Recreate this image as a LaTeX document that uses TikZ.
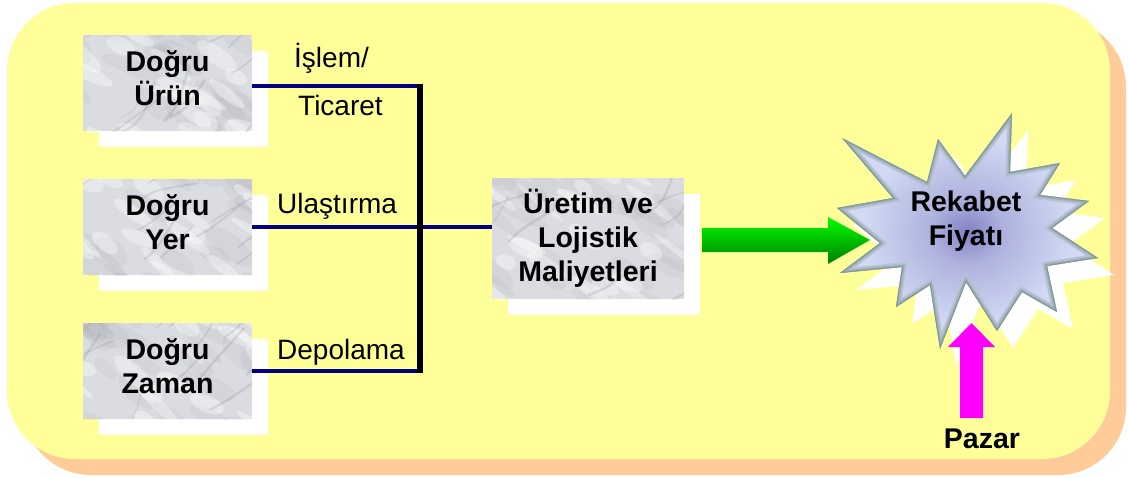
\documentclass[tikz,border=0pt]{standalone}
\usepackage{fontspec}
\setmainfont{Liberation Sans}
\usetikzlibrary{calc}
\pgfdeclarelayer{base}
\pgfdeclarelayer{shade}
\pgfsetlayers{base,shade,main}

\definecolor{paper}{RGB}{255,255,153}
\definecolor{peach}{RGB}{255,204,153}
\definecolor{navyline}{RGB}{0,0,128}
\definecolor{stonebase}{RGB}{218,220,225}
\definecolor{vein}{RGB}{120,122,130}
\definecolor{starout}{RGB}{210,217,244}
\definecolor{starmid}{RGB}{130,130,195}
\definecolor{starrim}{RGB}{130,152,150}
\definecolor{arrowgreen}{RGB}{0,255,0}
\definecolor{deepgreen}{RGB}{0,125,0}
\definecolor{pink}{RGB}{255,0,255}

\pgfdeclareradialshading{burst}{\pgfpoint{0bp}{0bp}}{%
  color(0bp)=(starmid); color(7bp)=(starmid!45!starout);
  color(20bp)=(starout); color(50bp)=(starout)}

% outline of the twelve-point burst
\newcommand{\burstoutline}{(842,138) -- (927,182) -- (938,139) -- (965,176) --
  (1012,113) -- (1010,172) -- (1060,163) -- (1040,195) -- (1089,201) --
  (1052,228) -- (1098,258) -- (1047,266) -- (1057,312) -- (1022,292) --
  (997,331) -- (966,282) -- (940,349) -- (930,285) -- (896,307) --
  (902,267) -- (840,273) -- (880,243) -- (837,208) -- (893,198) -- cycle}

% fat arrow pointing right, from (ga) to (gt)
\newcommand{\rightblock}{($(ga)+(0,-12)$) -- ($(gt)+(-42,-12)$) --
  ($(gt)+(-42,-23)$) -- (gt) -- ($(gt)+(-42,24)$) -- ($(gt)+(-42,12)$) --
  ($(ga)+(0,12)$) -- cycle}

% fat arrow pointing up, from (pb) to (pt)
\newcommand{\upblock}{($(pb)+(-11.5,0)$) -- ($(pt)+(-11.5,24)$) --
  ($(pt)+(-23.5,24)$) -- (pt) -- ($(pt)+(23.5,24)$) -- ($(pt)+(11.5,24)$) --
  ($(pb)+(11.5,0)$) -- cycle}

\tikzset{
  stone/.style={minimum width=169pt, minimum height=96pt, inner sep=0pt,
    align=center, font=\bfseries\fontsize{28.5}{34}\selectfont,
    path picture={
      \fill[stonebase] (path picture bounding box.south west)
        rectangle (path picture bounding box.north east);
      % soft mottling
      \foreach \k in {1,...,26}{
        \fill[vein, opacity=0.07]
          ($(path picture bounding box.center)+({(rnd-0.5)*220},{(rnd-0.5)*140})$)
          ellipse [x radius={12+22*rnd}, y radius={5+8*rnd}, rotate={-20-25*rnd}];
      }
      \foreach \k in {1,...,22}{
        \fill[white, opacity=0.35]
          ($(path picture bounding box.center)+({(rnd-0.5)*220},{(rnd-0.5)*140})$)
          ellipse [x radius={10+20*rnd}, y radius={3+6*rnd}, rotate={-20-25*rnd}];
      }
      % fine veins
      \foreach \k in {1,...,14}{
        \draw[vein, opacity=0.18, line width={(0.8+2*rnd)*1pt}, line cap=round]
          ($(path picture bounding box.center)+({(rnd-0.5)*230},{(rnd-0.5)*150})$)
          .. controls ++({-20-30*rnd}:18) .. ++({-25-30*rnd}:{30+40*rnd});
      }
    }},
  lifted/.style={text depth=10pt},
  tag/.style={font=\fontsize{28}{34}\selectfont, anchor=base west, inner sep=0pt},
  boldtag/.style={font=\bfseries\fontsize{28.5}{34}\selectfont, align=center, inner sep=0pt},
  feed/.style={draw=navyline, line width=4pt},
  trunk/.style={draw=black, line width=5.5pt},
}

\begin{document}
\begin{tikzpicture}[x=1pt, y=-1pt]
\pgfmathsetseed{4711}
\useasboundingbox (0,0) rectangle (1128,477);

% panel with its offset backing
\begin{pgfonlayer}{base}
  \fill[peach, rounded corners=68pt] (23,19) rectangle (1126,475);
  \fill[paper, rounded corners=68pt] (7,3) rectangle (1110,459);
\end{pgfonlayer}

% stone tiles
\node[stone, lifted] (urun)  at (167.5,83)  {Doğru\\Ürün};
\node[stone, lifted] (yer)   at (167.5,227) {Doğru\\Yer};
\node[stone, lifted] (zaman) at (167.5,371) {Doğru\\Zaman};
\node[stone, minimum width=192pt, minimum height=121pt] (cost) at (588,238.5)
  {Üretim ve\\Lojistik\\Maliyetleri};

% white drop shadows
\begin{pgfonlayer}{shade}
  \foreach \b in {urun,yer,zaman,cost}{
    \fill[white] ($(\b.north west)+(16,16)$) rectangle ($(\b.south east)+(16,16)$);
  }
\end{pgfonlayer}

% branch lines into the trunk
\coordinate (jt) at (420,86);
\coordinate (jm) at (420,227);
\coordinate (jb) at (420,371);
\draw[feed] (urun.east |- jt) -- (jt);
\draw[feed] (zaman.east |- jb) -- (jb);
\draw[feed] (yer.east |- jm) -- (cost.west |- jm);
\draw[trunk] ($(jt)+(0,-2)$) -- ($(jb)+(0,2)$);

\node[tag] (islem) at (294,67)  {İşlem/};
\node[tag] (ticaret) at (298,115) {Ticaret};
\node[tag] (ulas) at (277,213) {Ulaştırma};
\node[tag] (depo) at (277,359) {Depolama};

% green arrow towards the price burst
\coordinate (ga) at (702,240);
\coordinate (gt) at (870,240);
\begin{pgfonlayer}{shade}
  \begin{scope}[shift={(16,16)}]
    \fill[white] \rightblock;
  \end{scope}
\end{pgfonlayer}
\shade[top color=arrowgreen, middle color=arrowgreen, bottom color=deepgreen] \rightblock;

% market arrow from below
\coordinate (pt) at (971.5,323);
\coordinate (pb) at (971.5,418);
\begin{pgfonlayer}{shade}
  \begin{scope}[shift={(16,16)}]
    \fill[white] \upblock;
  \end{scope}
\end{pgfonlayer}
\fill[pink] \upblock;

% price burst with a soft inner rim
\begin{pgfonlayer}{shade}
  \begin{scope}[shift={(16,17)}]
    \fill[white] \burstoutline;
  \end{scope}
\end{pgfonlayer}
\begin{scope}
  \clip \burstoutline;
  \shade[shading=burst] \burstoutline;
  \draw[starrim!35!starout, line width=9pt, line join=miter] \burstoutline;
  \draw[starrim!65!starout, line width=5pt, line join=miter] \burstoutline;
  \draw[starrim, line width=2pt, line join=miter] \burstoutline;
\end{scope}
\node[boldtag] (price) at (966,221) {Rekabet\\Fiyatı};

\node[boldtag, anchor=base] (pazar) at (982,448) {Pazar};
\end{tikzpicture}
\end{document}
